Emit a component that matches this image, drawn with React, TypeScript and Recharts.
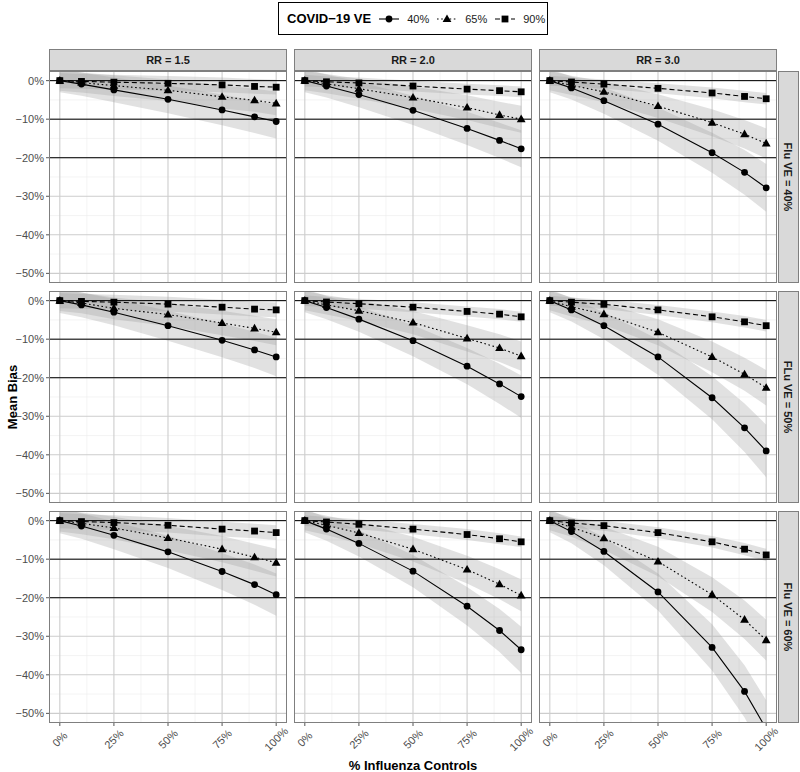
import { ComposedChart, Line, Area, XAxis, YAxis, CartesianGrid, ReferenceLine } from 'recharts';

// share of influenza controls (x) and facet labels
const xPct = [0, 0.1, 0.25, 0.5, 0.75, 0.9, 1];
const rrLabels = ['RR = 1.5', 'RR = 2.0', 'RR = 3.0'];
const fluLabels = ['Flu VE = 40%', 'FLu VE = 50%', 'Flu VE = 60%'];
const veLabels = ['40%', '65%', '90%'];
const xTicks = [0, 0.25, 0.5, 0.75, 1];
const yTicks = [0, -10, -20, -30, -40, -50];

// mean bias (%) — Flu VE = 40%
const rr15_flu40_ve40 = [0, -0.9, -2.4, -4.85, -7.6, -9.4, -10.6];
const rr15_flu40_ve65 = [0, -0.5, -1.3, -2.5, -4.2, -5.1, -5.9];
const rr15_flu40_ve90 = [0, -0.2, -0.4, -0.7, -1.1, -1.5, -1.7];
const rr20_flu40_ve40 = [0, -1.4, -3.6, -7.7, -12.4, -15.5, -17.7];
const rr20_flu40_ve65 = [0, -0.8, -2.1, -4.4, -7.0, -8.9, -10.0];
const rr20_flu40_ve90 = [0, -0.3, -0.6, -1.4, -2.2, -2.6, -2.9];
const rr30_flu40_ve40 = [0, -1.9, -5.2, -11.3, -18.7, -23.8, -27.8];
const rr30_flu40_ve65 = [0, -1.2, -2.9, -6.6, -10.9, -13.9, -16.3];
const rr30_flu40_ve90 = [0, -0.35, -0.9, -2.0, -3.2, -4.1, -4.7];
// Flu VE = 50%
const rr15_flu50_ve40 = [0, -1.1, -3.0, -6.5, -10.3, -12.8, -14.6];
const rr15_flu50_ve65 = [0, -0.6, -2.0, -3.6, -5.8, -7.2, -8.2];
const rr15_flu50_ve90 = [0, -0.2, -0.4, -0.9, -1.7, -2.2, -2.4];
const rr20_flu50_ve40 = [0, -1.8, -4.8, -10.4, -17.0, -21.6, -24.9];
const rr20_flu50_ve65 = [0, -1.1, -2.6, -5.7, -9.8, -12.3, -14.4];
const rr20_flu50_ve90 = [0, -0.35, -0.8, -1.7, -2.8, -3.5, -4.2];
const rr30_flu50_ve40 = [0, -2.4, -6.5, -14.6, -25.2, -33.0, -39.0];
const rr30_flu50_ve65 = [0, -1.6, -3.5, -8.2, -14.6, -19.1, -22.6];
const rr30_flu50_ve90 = [0, -0.4, -0.95, -2.4, -4.2, -5.5, -6.5];
// Flu VE = 60%
const rr15_flu60_ve40 = [0, -1.4, -3.8, -8.1, -13.2, -16.6, -19.2];
const rr15_flu60_ve65 = [0, -0.7, -1.9, -4.5, -7.4, -9.5, -10.9];
const rr15_flu60_ve90 = [0, -0.25, -0.5, -1.2, -2.2, -2.7, -3.1];
const rr20_flu60_ve40 = [0, -2.2, -5.9, -13.1, -22.2, -28.5, -33.5];
const rr20_flu60_ve65 = [0, -1.2, -3.2, -7.4, -12.7, -16.5, -19.4];
const rr20_flu60_ve90 = [0, -0.35, -0.95, -2.2, -3.6, -4.7, -5.5];
const rr30_flu60_ve40 = [0, -2.85, -8.0, -18.5, -32.9, -44.3, -54.0];
const rr30_flu60_ve65 = [0, -1.7, -4.6, -10.6, -19.2, -25.7, -31.0];
const rr30_flu60_ve90 = [0, -0.6, -1.3, -3.1, -5.5, -7.4, -8.9];

// ribbon half-widths (%)
const sd_rr15_flu40_ve40 = [3, 3, 3.2, 3.6, 4, 4.2, 4.4];
const sd_rr15_flu40_ve65 = [2.6, 2.6, 2.7, 2.8, 3, 3, 3.1];
const sd_rr15_flu40_ve90 = [2, 1.9, 1.9, 1.9, 1.9, 1.9, 1.9];
const sd_rr20_flu40_ve40 = [3, 3, 3.3, 3.8, 4.3, 4.6, 4.8];
const sd_rr20_flu40_ve65 = [2.5, 2.5, 2.6, 2.9, 3.2, 3.4, 3.5];
const sd_rr20_flu40_ve90 = [1.5, 1.4, 1.4, 1.4, 1.4, 1.4, 1.4];
const sd_rr30_flu40_ve40 = [3, 3, 3.4, 4.3, 5.2, 5.8, 6.2];
const sd_rr30_flu40_ve65 = [2.5, 2.5, 2.7, 3.1, 3.5, 3.7, 3.9];
const sd_rr30_flu40_ve90 = [1.3, 1.2, 1.2, 1.3, 1.4, 1.5, 1.5];
const sd_rr15_flu50_ve40 = [3.2, 3.2, 3.4, 3.9, 4.4, 4.7, 5];
const sd_rr15_flu50_ve65 = [2.7, 2.7, 2.8, 3, 3.2, 3.3, 3.4];
const sd_rr15_flu50_ve90 = [2, 1.9, 1.9, 1.9, 1.9, 1.9, 1.9];
const sd_rr20_flu50_ve40 = [3, 3, 3.3, 4, 4.7, 5.2, 5.5];
const sd_rr20_flu50_ve65 = [2.5, 2.5, 2.7, 3, 3.4, 3.6, 3.8];
const sd_rr20_flu50_ve90 = [1.4, 1.3, 1.3, 1.3, 1.3, 1.3, 1.3];
const sd_rr30_flu50_ve40 = [3, 3, 3.5, 4.6, 5.6, 6.3, 6.8];
const sd_rr30_flu50_ve65 = [2.5, 2.5, 2.8, 3.4, 4, 4.3, 4.6];
const sd_rr30_flu50_ve90 = [1.3, 1.2, 1.2, 1.3, 1.4, 1.5, 1.5];
const sd_rr15_flu60_ve40 = [3.3, 3.3, 3.6, 4.2, 4.8, 5.2, 5.5];
const sd_rr15_flu60_ve65 = [2.8, 2.8, 2.9, 3.2, 3.4, 3.5, 3.6];
const sd_rr15_flu60_ve90 = [2, 1.9, 1.9, 1.9, 1.9, 1.9, 1.9];
const sd_rr20_flu60_ve40 = [3, 3, 3.4, 4.2, 5, 5.6, 6];
const sd_rr20_flu60_ve65 = [2.5, 2.5, 2.8, 3.2, 3.6, 3.9, 4.1];
const sd_rr20_flu60_ve90 = [1.4, 1.3, 1.3, 1.3, 1.4, 1.4, 1.4];
const sd_rr30_flu60_ve40 = [3, 3, 3.6, 4.8, 6, 6.8, 7.4];
const sd_rr30_flu60_ve65 = [2.5, 2.5, 3, 3.8, 4.5, 5, 5.3];
const sd_rr30_flu60_ve90 = [1.3, 1.2, 1.3, 1.4, 1.5, 1.6, 1.6];

// [row = flu VE][col = RR][series = covid VE]
const values = [
  [[rr15_flu40_ve40, rr15_flu40_ve65, rr15_flu40_ve90], [rr20_flu40_ve40, rr20_flu40_ve65, rr20_flu40_ve90], [rr30_flu40_ve40, rr30_flu40_ve65, rr30_flu40_ve90]],
  [[rr15_flu50_ve40, rr15_flu50_ve65, rr15_flu50_ve90], [rr20_flu50_ve40, rr20_flu50_ve65, rr20_flu50_ve90], [rr30_flu50_ve40, rr30_flu50_ve65, rr30_flu50_ve90]],
  [[rr15_flu60_ve40, rr15_flu60_ve65, rr15_flu60_ve90], [rr20_flu60_ve40, rr20_flu60_ve65, rr20_flu60_ve90], [rr30_flu60_ve40, rr30_flu60_ve65, rr30_flu60_ve90]],
];
const spreads = [
  [[sd_rr15_flu40_ve40, sd_rr15_flu40_ve65, sd_rr15_flu40_ve90], [sd_rr20_flu40_ve40, sd_rr20_flu40_ve65, sd_rr20_flu40_ve90], [sd_rr30_flu40_ve40, sd_rr30_flu40_ve65, sd_rr30_flu40_ve90]],
  [[sd_rr15_flu50_ve40, sd_rr15_flu50_ve65, sd_rr15_flu50_ve90], [sd_rr20_flu50_ve40, sd_rr20_flu50_ve65, sd_rr20_flu50_ve90], [sd_rr30_flu50_ve40, sd_rr30_flu50_ve65, sd_rr30_flu50_ve90]],
  [[sd_rr15_flu60_ve40, sd_rr15_flu60_ve65, sd_rr15_flu60_ve90], [sd_rr20_flu60_ve40, sd_rr20_flu60_ve65, sd_rr20_flu60_ve90], [sd_rr30_flu60_ve40, sd_rr30_flu60_ve65, sd_rr30_flu60_ve90]],
];

const FONT = '"Liberation Sans", Arial, Helvetica, sans-serif';
const PANEL_W = 238;
const PANEL_H = 212;
const Y_W = 49;
const X_H = 50;
const X_PAD = 16; // room right of the bottom row for rotated "100%"
const colLeft = [49, 294, 539];
const rowTop = [71, 291, 511];
const dashes = [undefined, '1.6 2.6', '5 3'];
const keys = ['a', 'b', 'c'];

function shapeFor(kind: number) {
  return (p: any) => {
    const { cx, cy, index } = p;
    if (cx == null || cy == null || isNaN(cy)) return <g key={index} />;
    if (kind === 0) return <circle key={index} cx={cx} cy={cy} r={3.4} fill="#000" />;
    if (kind === 1)
      return <polygon key={index} points={`${cx},${cy - 4.6} ${cx - 4.4},${cy + 3} ${cx + 4.4},${cy + 3}`} fill="#000" />;
    return <rect key={index} x={cx - 3.4} y={cy - 3.4} width={6.8} height={6.8} fill="#000" />;
  };
}

const pctY = (v: number) => (v === 0 ? '0%' : `\u2212${Math.abs(v)}%`);

function XTick(props: any) {
  const { x, y, payload } = props;
  return (
    <g transform={`translate(${x},${y + 11})`}>
      <text transform="rotate(-45)" textAnchor="middle" dominantBaseline="central" fontSize={11} fill="#4d4d4d" fontFamily={FONT}>
        {`${Math.round(payload.value * 100)}%`}
      </text>
    </g>
  );
}

function Panel({ row, col }: { row: number; col: number }) {
  const showY = col === 0;
  const showX = row === 2;
  const ser = values[row][col];
  const sds = spreads[row][col];
  const data = xPct.map((x, i) => {
    const d: any = { x };
    ser.forEach((s, k) => {
      d[keys[k]] = s[i];
      d[keys[k] + 'R'] = [s[i] - sds[k][i], s[i] + sds[k][i]];
    });
    return d;
  });
  const padR = showX ? X_PAD : 0;
  const w = PANEL_W + (showY ? Y_W : 0) + padR;
  const h = PANEL_H + (showX ? X_H : 0);
  return (
    <div style={{ position: 'absolute', left: colLeft[col] - (showY ? Y_W : 0), top: rowTop[row], width: w, height: h }}>
      <ComposedChart width={w} height={h} data={data} margin={{ top: 0, right: padR, bottom: 0, left: 0 }}>
        <CartesianGrid
          horizontalValues={[-45, -35, -25, -15, -5]}
          verticalValues={[0.125, 0.375, 0.625, 0.875]}
          stroke="#ececec"
          strokeWidth={0.6}
        />
        <CartesianGrid horizontalValues={yTicks} verticalValues={xTicks} stroke="#cdcdcd" strokeWidth={1.1} />
        <XAxis
          type="number"
          dataKey="x"
          domain={[-0.05, 1.05]}
          ticks={xTicks}
          allowDataOverflow
          hide={!showX}
          height={X_H}
          axisLine={false}
          tickSize={3}
          tickLine={{ stroke: '#555' }}
          tick={<XTick />}
        />
        <YAxis
          type="number"
          domain={[-52.5, 2.5]}
          ticks={yTicks}
          allowDataOverflow
          hide={!showY}
          width={Y_W}
          axisLine={false}
          tickSize={3}
          tickMargin={2}
          tickLine={{ stroke: '#555' }}
          tickFormatter={pctY}
          tick={{ fontSize: 11, fill: '#4d4d4d', fontFamily: FONT }}
        />
        {[0, -10, -20].map((v) => (
          <ReferenceLine key={v} y={v} stroke="#000" strokeWidth={1} />
        ))}
        {keys.map((k) => (
          <Area
            key={k + 'R'}
            type="linear"
            dataKey={k + 'R'}
            stroke="none"
            fill="#9a9a9a"
            fillOpacity={0.3}
            isAnimationActive={false}
            activeDot={false}
          />
        ))}
        {keys.map((k, i) => (
          <Line
            key={k}
            type="linear"
            dataKey={k}
            stroke="#000"
            strokeWidth={1.1}
            strokeDasharray={dashes[i]}
            dot={shapeFor(i)}
            activeDot={false}
            isAnimationActive={false}
          />
        ))}
      </ComposedChart>
      <div
        style={{
          position: 'absolute',
          left: showY ? Y_W : 0,
          top: 0,
          width: PANEL_W,
          height: PANEL_H,
          border: '1px solid #7f7f7f',
          boxSizing: 'border-box',
          pointerEvents: 'none',
        }}
      />
    </div>
  );
}

function LegendKey({ kind }: { kind: number }) {
  return (
    <svg width={20} height={12} style={{ display: 'block' }}>
      <line x1={0} y1={6} x2={20} y2={6} stroke="#000" strokeWidth={1.1} strokeDasharray={dashes[kind]} />
      {shapeFor(kind)({ cx: 10, cy: 6, index: 0 })}
    </svg>
  );
}

export default function App() {
  return (
    <div style={{ position: 'absolute', left: 0, top: 0, width: 800, height: 772, background: '#fff', fontFamily: FONT, overflow: 'hidden' }}>
      {/* legend */}
      <div
        style={{
          position: 'absolute',
          left: 278,
          top: 2,
          width: 270,
          height: 33,
          border: '1px solid #000',
          boxSizing: 'border-box',
          display: 'flex',
          alignItems: 'center',
          paddingLeft: 8,
        }}
      >
        <span style={{ fontWeight: 'bold', fontSize: 13, color: '#000', marginRight: 8 }}>COVID&minus;19 VE</span>
        {veLabels.map((l, i) => (
          <div key={l} style={{ display: 'flex', alignItems: 'center', marginRight: i < 2 ? 8 : 0 }}>
            <LegendKey kind={i} />
            <span style={{ fontSize: 11, color: '#1a1a1a', marginLeft: 8 }}>{l}</span>
          </div>
        ))}
      </div>

      {/* column strips */}
      {rrLabels.map((l, c) => (
        <div
          key={l}
          style={{
            position: 'absolute',
            left: colLeft[c],
            top: 49,
            width: PANEL_W,
            height: 22,
            background: '#d9d9d9',
            border: '1px solid #7f7f7f',
            boxSizing: 'border-box',
            display: 'flex',
            alignItems: 'center',
            justifyContent: 'center',
            fontSize: 11,
            fontWeight: 'bold',
            color: '#1a1a1a',
          }}
        >
          {l}
        </div>
      ))}

      {/* row strips */}
      {fluLabels.map((l, r) => (
        <div
          key={l}
          style={{
            position: 'absolute',
            left: 778,
            top: rowTop[r],
            width: 21,
            height: PANEL_H,
            background: '#d9d9d9',
            border: '1px solid #7f7f7f',
            boxSizing: 'border-box',
            display: 'flex',
            alignItems: 'center',
            justifyContent: 'center',
          }}
        >
          <span style={{ transform: 'rotate(90deg)', whiteSpace: 'nowrap', fontSize: 11, fontWeight: 'bold', color: '#1a1a1a' }}>{l}</span>
        </div>
      ))}

      {[0, 1, 2].map((r) => [0, 1, 2].map((c) => <Panel key={`${r}-${c}`} row={r} col={c} />))}

      {/* axis titles */}
      <div
        style={{
          position: 'absolute',
          left: 12,
          top: 397,
          transform: 'translate(-50%, -50%) rotate(-90deg)',
          whiteSpace: 'nowrap',
          fontSize: 13,
          fontWeight: 'bold',
          color: '#000',
        }}
      >
        Mean Bias
      </div>
      <div
        style={{
          position: 'absolute',
          left: 413,
          top: 765,
          transform: 'translate(-50%, -50%)',
          whiteSpace: 'nowrap',
          fontSize: 13,
          fontWeight: 'bold',
          color: '#000',
        }}
      >
        % Influenza Controls
      </div>
    </div>
  );
}
